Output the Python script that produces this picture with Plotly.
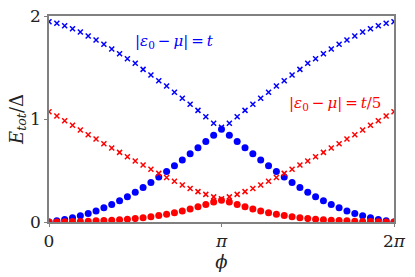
import numpy as np
import plotly.graph_objects as go

# half-curves (phi from 0 to pi, 23 points); curves are mirrored about pi
blue_x_half = [1.945, 1.929, 1.906, 1.877, 1.845, 1.806, 1.767, 1.725, 1.680, 1.634,
               1.585, 1.541, 1.482, 1.427, 1.372, 1.320, 1.259, 1.201, 1.143, 1.084,
               1.022, 0.958, 0.920]
blue_dot_half = [0.0, 0.012, 0.025, 0.042, 0.060, 0.082, 0.108, 0.138, 0.170, 0.206,
                 0.246, 0.290, 0.336, 0.384, 0.436, 0.490, 0.546, 0.603, 0.663, 0.722,
                 0.782, 0.842, 0.900]
red_x_half = [1.071, 1.029, 0.983, 0.939, 0.893, 0.848, 0.805, 0.760, 0.718, 0.676,
              0.634, 0.593, 0.553, 0.512, 0.472, 0.432, 0.395, 0.359, 0.326, 0.295,
              0.268, 0.244, 0.225]
red_dot_half = [0.0, 0.001, 0.002, 0.004, 0.006, 0.008, 0.011, 0.014, 0.018, 0.022,
                0.027, 0.033, 0.042, 0.052, 0.063, 0.076, 0.091, 0.107, 0.126, 0.148,
                0.171, 0.193, 0.212]

def full(h):
    return h + h[-2::-1]

blue_x = full(blue_x_half)
blue_dot = full(blue_dot_half)
red_x = full(red_x_half)
red_dot = full(red_dot_half)
phi = np.linspace(0, 2 * np.pi, len(blue_x))

x_tickvals = [0, np.pi, 2 * np.pi]
x_ticktext = ["0", "<i>π</i>", "2<i>π</i>"]
y_tickvals = [0, 1, 2]
y_ticktext = ["0", "1", "2"]

BLUE = "#0000ff"
RED = "#ff0000"
FONT = "DejaVu Serif, serif"
TS = "\u2009"  # thin space

fig = go.Figure()
fig.add_trace(go.Scatter(x=phi, y=blue_x, mode="markers",
                         marker=dict(symbol="x-thin", size=5, line=dict(color=BLUE, width=1.5), color=BLUE)))
fig.add_trace(go.Scatter(x=phi, y=blue_dot, mode="markers",
                         marker=dict(symbol="circle", size=7, color=BLUE, line=dict(width=0))))
fig.add_trace(go.Scatter(x=phi, y=red_x, mode="markers",
                         marker=dict(symbol="x-thin", size=5, line=dict(color=RED, width=1.5), color=RED)))
fig.add_trace(go.Scatter(x=phi, y=red_dot, mode="markers",
                         marker=dict(symbol="circle", size=7, color=RED, line=dict(width=0))))

fig.add_annotation(x=0.365, y=1.75, xref="x domain", yref="y", xanchor="center",
                   text=f"|<i>ε</i><sub>0</sub>{TS}−{TS}<i>μ</i>|{TS}={TS}<i>t</i>",
                   showarrow=False, font=dict(family=FONT, size=15, color=BLUE))
fig.add_annotation(x=0.829, y=1.15, xref="x domain", yref="y", xanchor="center",
                   text=f"|<i>ε</i><sub>0</sub>{TS}−{TS}<i>μ</i>|{TS}={TS}<i>t</i>/5",
                   showarrow=False, font=dict(family=FONT, size=15, color=RED))

axis_common = dict(showline=True, linecolor="#808080", linewidth=1.5, mirror=True,
                   showgrid=False, zeroline=False, ticks="outside", ticklen=3,
                   tickcolor="#808080", automargin=False,
                   tickfont=dict(family=FONT, size=17, color="#222"))
fig.update_xaxes(range=[0, 2 * np.pi], tickvals=x_tickvals, ticktext=x_ticktext,
                 title=dict(text="<i>ϕ</i>", font=dict(family=FONT, size=18, color="#222"), standoff=4),
                 **axis_common)
fig.update_yaxes(range=[0, 2], tickvals=y_tickvals, ticktext=y_ticktext,
                 title=dict(text="<i>E<sub>tot</sub></i>/Δ", font=dict(family=FONT, size=18, color="#222"), standoff=2),
                 **axis_common)
fig.update_layout(width=415, height=277, margin=dict(l=49, r=21, t=16, b=55),
                  plot_bgcolor="white", paper_bgcolor="white", showlegend=False)
fig.write_html("out.html", config={"displayModeBar": False},
               post_script="document.body.style.margin='0px';document.body.style.overflow='hidden';")
